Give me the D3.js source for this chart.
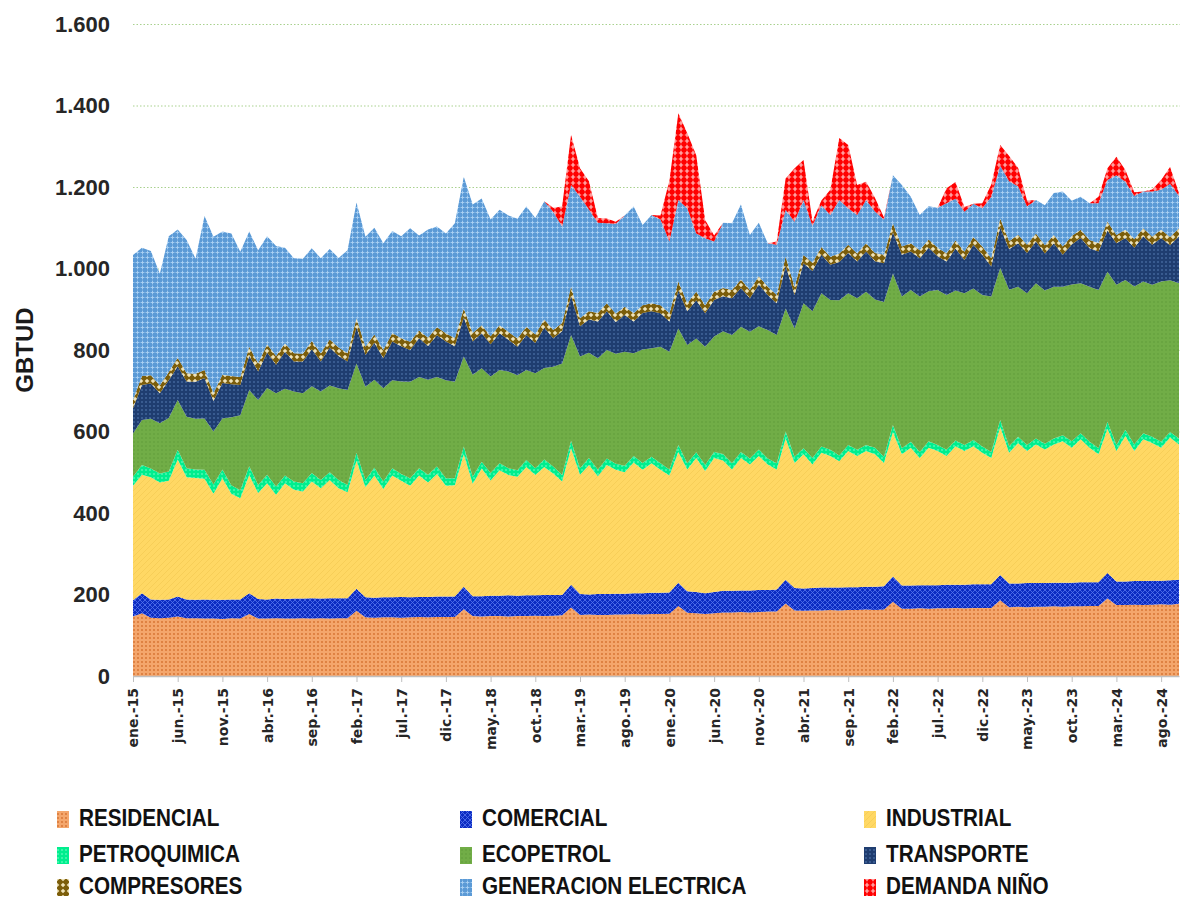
<!DOCTYPE html>
<html>
<head>
<meta charset="utf-8">
<script src="https://cdn.jsdelivr.net/npm/d3@7"></script>
<style>
  body { margin: 0; background: #fff; }
  svg { display: block; }
</style>
</head>
<body>
<svg id="chart" width="1180" height="900"></svg>
<script>
/* ============================
   DATOS (GBTUD mensual, ene-15 .. oct-24)
============================ */
const MESES = ["ene", "feb", "mar", "abr", "may", "jun", "jul", "ago", "sep", "oct", "nov", "dic"];
const ANIO_INICIAL = 15;
const N_MESES = 118;

const TICK_LABELS = ["ene.-15", "jun.-15", "nov.-15", "abr.-16", "sep.-16", "feb.-17", "jul.-17", "dic.-17",
  "may.-18", "oct.-18", "mar.-19", "ago.-19", "ene.-20", "jun.-20", "nov.-20", "abr.-21", "sep.-21",
  "feb.-22", "jul.-22", "dic.-22", "may.-23", "oct.-23", "mar.-24", "ago.-24"];
const Y_TICKS = [0, 200, 400, 600, 800, 1000, 1200, 1400, 1600];

const RESIDENCIAL = [
  146, 154, 143, 142, 143, 146, 142, 142, 141, 141, 140, 142,
  141, 152, 141, 141, 142, 141, 141, 142, 141, 142, 141, 142,
  142, 160, 144, 143, 144, 144, 143, 144, 145, 144, 145, 145,
  145, 164, 147, 146, 147, 147, 146, 147, 147, 148, 147, 148,
  149, 168, 150, 151, 150, 150, 151, 151, 152, 151, 152, 152,
  153, 172, 155, 154, 152, 154, 156, 156, 157, 156, 157, 158,
  158, 178, 161, 160, 161, 161, 162, 161, 162, 162, 163, 162,
  163, 182, 165, 165, 166, 165, 166, 166, 167, 166, 167, 167,
  167, 186, 169, 170, 169, 170, 170, 171, 170, 171, 171, 172,
  172, 190, 174, 174, 175, 174, 175, 176, 175, 177];

const COMERCIAL = [
  40, 49, 45, 45, 45, 49, 46, 45, 47, 46, 47, 46,
  47, 51, 48, 47, 48, 48, 49, 48, 50, 48, 50, 49,
  49, 54, 49, 49, 49, 49, 51, 49, 49, 50, 50, 50,
  50, 55, 49, 50, 50, 50, 52, 50, 51, 50, 52, 51,
  50, 56, 51, 49, 51, 51, 51, 51, 51, 52, 52, 52,
  52, 57, 53, 52, 51, 52, 53, 53, 53, 54, 54, 53,
  54, 58, 55, 55, 55, 56, 55, 56, 56, 56, 56, 57,
  57, 62, 57, 57, 57, 58, 57, 58, 57, 58, 58, 58,
  58, 62, 58, 57, 59, 58, 58, 58, 59, 58, 59, 58,
  58, 63, 58, 58, 58, 59, 59, 58, 60, 59];

const INDUSTRIAL = [
  281, 291, 300, 288, 291, 336, 300, 299, 296, 260, 298, 259,
  248, 290, 260, 285, 255, 284, 267, 263, 286, 271, 290, 270,
  260, 314, 270, 300, 266, 299, 285, 274, 298, 281, 301, 272,
  273, 325, 276, 313, 283, 308, 295, 292, 315, 295, 314, 298,
  278, 335, 293, 318, 289, 317, 304, 298, 321, 303, 318, 302,
  287, 321, 299, 329, 300, 329, 320, 298, 325, 309, 329, 308,
  295, 347, 307, 329, 303, 331, 323, 310, 334, 322, 333, 325,
  303, 355, 322, 338, 312, 337, 329, 316, 340, 328, 339, 323,
  310, 363, 321, 345, 324, 340, 328, 339, 347, 331, 351, 330,
  314, 354, 320, 357, 319, 348, 338, 326, 350, 332];

const PETROQUIMICA = [
  22, 24, 21, 22, 23, 24, 22, 21, 22, 23, 22, 21,
  20, 22, 20, 21, 20, 19, 20, 20, 21, 20, 19, 20,
  18, 20, 18, 19, 18, 18, 17, 18, 18, 19, 18, 18,
  17, 19, 17, 17, 18, 17, 17, 16, 17, 17, 18, 17,
  16, 18, 16, 17, 16, 16, 15, 16, 16, 17, 16, 16,
  15, 17, 15, 14, 15, 15, 16, 15, 15, 15, 16, 15,
  15, 17, 15, 15, 16, 15, 15, 14, 15, 15, 15, 16,
  15, 17, 15, 15, 15, 16, 15, 15, 14, 15, 15, 15,
  15, 17, 16, 15, 15, 15, 14, 15, 15, 16, 15, 15,
  15, 17, 15, 15, 16, 15, 15, 15, 14, 15];

const ECOPETROL = [
  106, 110, 122, 123, 131, 122, 126, 124, 126, 130, 125, 167,
  184, 187, 208, 213, 229, 213, 221, 221, 213, 217, 213, 225,
  233, 219, 229, 216, 229, 216, 227, 237, 224, 233, 220, 241,
  237, 221, 250, 229, 237, 229, 237, 233, 221, 233, 225, 245,
  274, 260, 274, 258, 274, 266, 270, 280, 252, 278, 266, 286,
  289, 286, 290, 279, 290, 283, 301, 315, 307, 311, 302, 315,
  315, 302, 315, 356, 360, 376, 368, 381, 372, 372, 376, 364,
  380, 372, 372, 372, 381, 368, 380, 380, 368, 372, 372, 372,
  381, 373, 384, 368, 372, 381, 376, 372, 364, 385, 368, 380,
  388, 368, 393, 368, 388, 372, 373, 393, 372, 381];

const TRANSPORTE = [
  62, 86, 87, 74, 93, 83, 87, 91, 99, 75, 87, 81,
  74, 84, 70, 87, 70, 91, 74, 78, 91, 74, 93, 79,
  70, 89, 78, 91, 74, 95, 86, 78, 95, 83, 102, 95,
  87, 96, 82, 86, 79, 90, 78, 70, 86, 74, 99, 70,
  79, 96, 74, 82, 90, 95, 78, 90, 78, 90, 91, 82,
  74, 93, 83, 94, 82, 90, 86, 90, 95, 82, 103, 86,
  78, 105, 82, 98, 99, 95, 86, 94, 99, 90, 99, 94,
  95, 101, 103, 95, 94, 107, 83, 82, 103, 82, 107, 99,
  74, 100, 99, 107, 99, 102, 91, 107, 79, 98, 111, 95,
  95, 101, 102, 103, 95, 111, 98, 107, 86, 115];

const COMPRESORES = [
  20, 22, 20, 19, 20, 21, 20, 20, 20, 19, 20, 20,
  20, 22, 20, 20, 21, 20, 20, 19, 20, 20, 20, 21,
  20, 22, 20, 20, 20, 21, 20, 20, 19, 20, 20, 20,
  20, 22, 21, 20, 20, 20, 19, 20, 20, 21, 20, 20,
  20, 22, 20, 20, 21, 20, 20, 20, 20, 19, 20, 20,
  20, 22, 20, 21, 20, 20, 20, 20, 21, 20, 20, 20,
  20, 22, 20, 20, 20, 19, 20, 21, 20, 20, 20, 20,
  21, 22, 20, 20, 20, 20, 21, 20, 20, 20, 19, 20,
  20, 22, 20, 21, 20, 20, 20, 20, 20, 21, 20, 20,
  20, 22, 20, 20, 21, 20, 20, 20, 20, 20];

const GENERACION_ELECTRICA = [
  356, 315, 305, 274, 333, 315, 327, 282, 378, 384, 352, 350,
  307, 283, 278, 265, 270, 235, 233, 233, 228, 233, 222, 220,
  253, 284, 270, 262, 262, 250, 250, 279, 233, 266, 247, 245,
  282, 323, 315, 311, 286, 283, 286, 294, 295, 286, 290, 290,
  237, 250, 298, 250, 221, 196, 221, 224, 262, 197, 216, 210,
  176, 200, 233, 143, 164, 123, 160, 164, 184, 135, 131, 107,
  123, 115, 160, 135, 90, 102, 102, 131, 90, 94, 106, 102,
  86, 118, 151, 114, 86, 82, 98, 123, 102, 98, 82, 94,
  151, 129, 147, 119, 94, 82, 98, 103, 135, 86, 81, 90,
  98, 102, 147, 118, 106, 90, 111, 98, 131, 79];

const DEMANDA_NINO = [
  0, 0, 0, 0, 0, 0, 0, 0, 0, 0, 0, 0,
  0, 0, 0, 0, 0, 0, 0, 0, 0, 0, 0, 0,
  0, 0, 0, 0, 0, 0, 0, 0, 0, 0, 0, 0,
  0, 0, 0, 0, 0, 0, 0, 0, 0, 0, 0, 10,
  49, 123, 70, 69, 12, 12, 5, 0, 0, 0, 0, 10,
  150, 213, 184, 192, 45, 15, 0, 0, 0, 0, 0, 0,
  8, 77, 131, 98, 12, 12, 62, 152, 155, 74, 45, 33,
  5, 0, 0, 0, 0, 0, 0, 37, 41, 12, 0, 12,
  30, 51, 62, 45, 15, 0, 0, 0, 0, 0, 0, 0,
  16, 29, 45, 29, 9, 0, 5, 24, 41, 7];

/* ============================
   SERIES (orden de apilado) + estilos
============================ */
const SERIES = [
  { key: "RESIDENCIAL", values: RESIDENCIAL, pat: "p-res" },
  { key: "COMERCIAL", values: COMERCIAL, pat: "p-com" },
  { key: "INDUSTRIAL", values: INDUSTRIAL, pat: "p-ind" },
  { key: "PETROQUIMICA", values: PETROQUIMICA, pat: "p-pet" },
  { key: "ECOPETROL", values: ECOPETROL, pat: "p-eco" },
  { key: "TRANSPORTE", values: TRANSPORTE, pat: "p-tra" },
  { key: "COMPRESORES", values: COMPRESORES, pat: "p-cmp" },
  { key: "GENERACION ELECTRICA", values: GENERACION_ELECTRICA, pat: "p-gen" },
  { key: "DEMANDA NIÑO", values: DEMANDA_NINO, pat: "p-nin" }
];

const M = { left: 133, right: 1179, top: 24, bottom: 676 };
const LEG_COLS = [79, 482, 886];
const LEG_ROWS = [826, 862, 894];   // líneas base del texto

/* ============================
   HELPERS
============================ */
const periodos = d3.range(N_MESES).map(i => `${MESES[i % 12]}.-${ANIO_INICIAL + Math.floor(i / 12)}`);

const fmtES = d3.formatLocale({ decimal: ",", thousands: ".", grouping: [3], currency: ["$", ""] }).format(",d");

function addPattern(defs, id, size, bg, draw) {
  const p = defs.append("pattern")
    .attr("id", id)
    .attr("patternUnits", "userSpaceOnUse")
    .attr("width", size)
    .attr("height", size);
  p.append("rect").attr("width", size).attr("height", size).attr("fill", bg);
  draw(p);
}

/* ============================
   DIBUJO
============================ */
const svg = d3.select("#chart");
const defs = svg.append("defs");

addPattern(defs, "p-res", 4, "#f4a66c", p => p.append("circle").attr("cx", 2).attr("cy", 2).attr("r", 0.9).attr("fill", "#d5702f"));
addPattern(defs, "p-com", 5, "#0c2cc2", p => p.append("path").attr("d", "M0,0L5,5M5,0L0,5").attr("stroke", "#5575ee").attr("stroke-width", 0.8));
addPattern(defs, "p-ind", 6, "#ffd864", p => p.append("path").attr("d", "M0,6L6,0").attr("stroke", "#f5cb56").attr("stroke-width", 0.8));
addPattern(defs, "p-pet", 4, "#00ee8e", p => p.append("circle").attr("cx", 2).attr("cy", 2).attr("r", 0.8).attr("fill", "#86ffcb"));
addPattern(defs, "p-eco", 4, "#71ad47", p => p.append("circle").attr("cx", 2).attr("cy", 2).attr("r", 0.8).attr("fill", "#5f9a38"));
addPattern(defs, "p-tra", 4, "#1f3d70", p => p.append("circle").attr("cx", 2).attr("cy", 2).attr("r", 0.8).attr("fill", "#5a80ba"));
addPattern(defs, "p-cmp", 6, "#7b5d0a", p => p.append("path").attr("d", "M3,0.7L5.3,3L3,5.3L0.7,3Z").attr("fill", "#efe3b8"));
addPattern(defs, "p-gen", 5, "#5b9ad6", p => p.append("path").attr("d", "M2.5,0.6V4.4M0.6,2.5H4.4").attr("stroke", "#aad0f3").attr("stroke-width", 0.9));
addPattern(defs, "p-nin", 6, "#ff0000", p => p.append("path").attr("d", "M3,0.8V5.2M0.8,3H5.2").attr("stroke", "#ffc4c4").attr("stroke-width", 1.2));

const x = d3.scalePoint().domain(periodos).range([M.left, M.right]);
const y = d3.scaleLinear().domain([0, 1600]).range([M.bottom, M.top]);

// gridlines (punteadas verdes)
const grid = svg.append("g")
  .attr("transform", `translate(${M.left},0)`)
  .call(d3.axisLeft(y).tickValues(Y_TICKS.filter(v => v > 0)).tickSize(-(1180 - M.left)).tickFormat(""));
grid.select(".domain").remove();
grid.selectAll("line").attr("stroke", "#a9d18e").attr("stroke-dasharray", "1.5,2");

// áreas apiladas
const rows = periodos.map((p, i) => {
  const o = { periodo: p };
  SERIES.forEach(s => (o[s.key] = s.values[i]));
  return o;
});
const layers = d3.stack().keys(SERIES.map(s => s.key))(rows);
const area = d3.area()
  .x(d => x(d.data.periodo))
  .y0(d => y(d[0]))
  .y1(d => y(d[1]));

svg.append("g").selectAll("path")
  .data(layers)
  .enter()
  .append("path")
  .attr("d", area)
  .attr("fill", (d, i) => `url(#${SERIES[i].pat})`);

// eje Y
const yAx = svg.append("g")
  .attr("transform", `translate(${M.left},0)`)
  .call(d3.axisLeft(y).tickValues(Y_TICKS).tickSize(0).tickPadding(23).tickFormat(fmtES));
yAx.select(".domain").remove();
yAx.selectAll("text")
  .attr("font-family", "'Liberation Sans', Arial, sans-serif")
  .attr("font-weight", "bold")
  .attr("font-size", 22)
  .attr("fill", "#262626");

svg.append("text")
  .attr("transform", "translate(33,350) rotate(-90)")
  .attr("text-anchor", "middle")
  .attr("font-family", "'Liberation Sans', Arial, sans-serif")
  .attr("font-weight", "bold")
  .attr("font-size", 24)
  .attr("fill", "#1a1a1a")
  .text("GBTUD");

// eje X
const xAx = svg.append("g")
  .attr("transform", `translate(0,${M.bottom})`)
  .call(d3.axisBottom(x).tickValues(TICK_LABELS).tickSize(6).tickSizeOuter(0));
xAx.select(".domain").attr("stroke", "#bfbfbf").attr("stroke-width", 1.5);
xAx.selectAll(".tick line").attr("stroke", "#bfbfbf");
xAx.selectAll("text")
  .attr("transform", "rotate(-90)")
  .attr("x", -12)
  .attr("y", 0)
  .attr("dy", "0.35em")
  .attr("text-anchor", "end")
  .attr("font-family", "'DejaVu Sans', Verdana, sans-serif")
  .attr("font-weight", "bold")
  .attr("font-size", 14)
  .attr("fill", "#262626");

// leyenda (texto condensado)
const leg = svg.append("g");
SERIES.forEach((s, i) => {
  const cx = LEG_COLS[i % 3];
  const by = LEG_ROWS[Math.floor(i / 3)];
  leg.append("rect")
    .attr("x", cx - 22).attr("y", by - 15)
    .attr("width", 12).attr("height", 17)
    .attr("fill", `url(#${s.pat})`);
  leg.append("text")
    .attr("transform", `translate(${cx},${by}) scale(0.9,1)`)
    .attr("font-family", "'Liberation Sans', Arial, sans-serif")
    .attr("font-weight", "bold")
    .attr("font-size", 23)
    .attr("fill", "#111")
    .text(s.key);
});
</script>
</body>
</html>
